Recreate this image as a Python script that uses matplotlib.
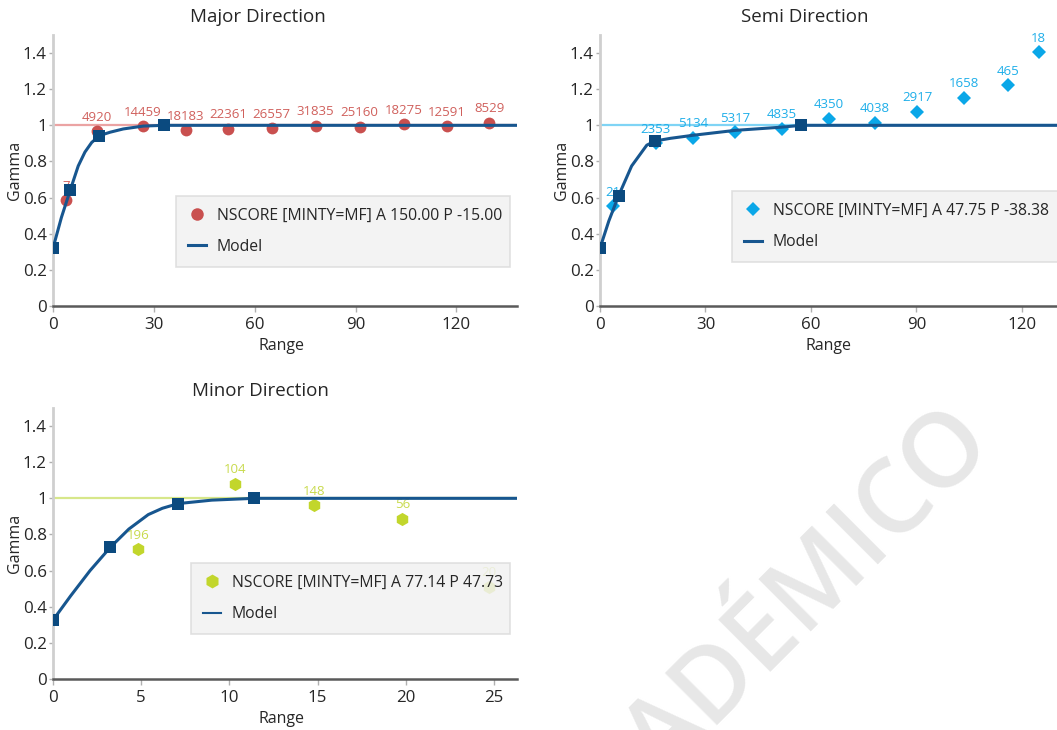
import matplotlib
matplotlib.use("Agg")
import matplotlib.pyplot as plt
from matplotlib.lines import Line2D
from matplotlib.ticker import FuncFormatter, MultipleLocator

plt.rcParams["font.family"] = ["Open Sans", "DejaVu Sans"]

# ---------------- experimental variogram points ----------------
major_lag = [3.9, 13.0, 26.7, 39.5, 52.1, 65.0, 78.1, 91.2, 104.3, 117.1, 129.8]
major_gamma = [0.585, 0.967, 0.994, 0.972, 0.980, 0.985, 0.998, 0.993, 1.006, 0.996, 1.013]
major_pairs = ["7", "4920", "14459", "18183", "22361", "26557", "31835", "25160",
               "18275", "12591", "8529"]

semi_lag = [3.8, 15.9, 26.5, 38.4, 51.7, 65.2, 78.2, 90.3, 103.5, 116.0, 124.8]
semi_gamma = [0.552, 0.902, 0.930, 0.961, 0.982, 1.037, 1.015, 1.074, 1.153, 1.221, 1.405]
semi_pairs = ["21", "2353", "5134", "5317", "4835", "4350", "4038", "2917", "1658",
              "465", "18"]

minor_lag = [4.84, 10.3, 14.8, 19.8, 24.7]
minor_gamma = [0.717, 1.081, 0.963, 0.888, 0.510]
minor_pairs = ["196", "104", "148", "56", "20"]

# ---------------- fitted model curves ----------------
major_model_x = [0.0, 2.5, 5.1, 7.5, 9.5, 11.5, 13.8, 17.0, 20.9, 26.9, 33.0, 140.0]
major_model_y = [0.32, 0.49, 0.64, 0.775, 0.852, 0.905, 0.943, 0.962, 0.980, 0.996, 1.0, 1.0]
major_knot_x = [0.0, 5.1, 13.8, 33.0]
major_knot_y = [0.32, 0.64, 0.943, 1.0]

semi_model_x = [0.0, 2.5, 5.3, 9.0, 13.3, 15.6, 20.0, 26.5, 38.4, 51.7, 57.3, 140.0]
semi_model_y = [0.32, 0.47, 0.611, 0.775, 0.89, 0.913, 0.928, 0.945, 0.972, 0.99, 1.0, 1.0]
semi_knot_x = [0.0, 5.3, 15.6, 57.3]
semi_knot_y = [0.32, 0.611, 0.913, 1.0]

minor_model_x = [0.0, 1.0, 2.1, 3.25, 4.3, 5.4, 6.2, 7.1, 9.0, 11.4, 30.0]
minor_model_y = [0.326, 0.46, 0.60, 0.729, 0.83, 0.91, 0.945, 0.971, 0.99, 1.0, 1.0]
minor_knot_x = [0.0, 3.25, 7.1, 11.4]
minor_knot_y = [0.326, 0.729, 0.971, 1.0]

major_legend = "NSCORE [MINTY=MF] A 150.00 P -15.00"
semi_legend = "NSCORE [MINTY=MF] A 47.75 P -38.38"
minor_legend = "NSCORE [MINTY=MF] A 77.14 P 47.73"

MODEL_COLOR = "#17568f"
KNOT_COLOR = "#0b4a7f"
TEXT_COLOR = "#262626"

W, H = 1057, 730
fig = plt.figure(figsize=(W / 100, H / 100), dpi=100)


def px_axes(left, top, right, bottom):
    return fig.add_axes([left / W, 1 - bottom / H, (right - left) / W, (bottom - top) / H])


def style_axes(ax, xmax, xstep):
    ax.set_xlim(0, xmax)
    ax.set_ylim(0, 1.5)
    ax.xaxis.set_major_locator(MultipleLocator(xstep))
    ax.yaxis.set_major_locator(MultipleLocator(0.2))
    ax.yaxis.set_major_formatter(FuncFormatter(lambda v, p: "%g" % round(v, 2)))
    ax.xaxis.set_major_formatter(FuncFormatter(lambda v, p: "%g" % v))
    for s in ("top", "right"):
        ax.spines[s].set_visible(False)
    ax.spines["left"].set_color("#cfcfcf")
    ax.spines["left"].set_linewidth(2)
    ax.spines["bottom"].set_color("#5a5a5a")
    ax.spines["bottom"].set_linewidth(1.8)
    ax.tick_params(axis="y", length=3, width=1, color="#b0b0b0", pad=1.5,
                   labelsize=12.2, labelcolor=TEXT_COLOR)
    ax.tick_params(axis="x", length=4, width=1, color="#b0b0b0", pad=4,
                   labelsize=12.2, labelcolor=TEXT_COLOR)
    ax.set_xlabel("Range", fontsize=11.5, color=TEXT_COLOR)
    ax.set_ylabel("Gamma", fontsize=11.5, color=TEXT_COLOR)
    ax.xaxis.set_label_coords(0.493, -40 / 271, transform=ax.transAxes)
    ax.yaxis.set_label_coords(-38 / 464, 0.5, transform=ax.transAxes)
    ax.xaxis.label.set_va("center")
    ax.yaxis.label.set_va("center")
    ax.patch.set_alpha(0)


def draw_panel(ax, lag, gamma, pairs, mx, my, kx, ky, marker, msize,
               pt_color, lbl_color, sill_color, legend_text, legend_box, model_lw_leg):
    ax.axhline(1.0, color=sill_color, lw=1.6, zorder=1)
    ax.plot(lag, gamma, linestyle="none", marker=marker, markersize=msize,
            color=pt_color, markeredgewidth=0, zorder=2, clip_on=False)
    for x, y, t in zip(lag, gamma, pairs):
        ax.annotate(t, (x, y), xytext=(0, 14), textcoords="offset pixels",
                    ha="center", va="center", fontsize=9.5, color=lbl_color, zorder=2,
                    annotation_clip=False)
    ax.plot(mx, my, color=MODEL_COLOR, lw=2.2, zorder=3)
    ax.plot(kx, ky, linestyle="none", marker="s", markersize=8.5,
            color=KNOT_COLOR, markeredgewidth=0, zorder=4)
    handles = [
        Line2D([], [], linestyle="none", marker=marker, markersize=msize + 0.5,
               color=pt_color, markeredgewidth=0),
        Line2D([], [], color=MODEL_COLOR, lw=model_lw_leg),
    ]
    leg = ax.legend(handles, [legend_text, "Model"], loc="upper left",
                    bbox_to_anchor=legend_box, mode="expand", borderaxespad=0,
                    fontsize=11.3, frameon=True, fancybox=False, framealpha=0.85,
                    facecolor="#f1f1f1", edgecolor="#dcdcdc", borderpad=0.75,
                    labelspacing=0.97, handlelength=1.15, handletextpad=0.7,
                    labelcolor=TEXT_COLOR)
    leg.get_frame().set_linewidth(1.2)
    leg.set_zorder(6)


# Major direction
ax1 = px_axes(53, 35, 517, 306)
style_axes(ax1, 138, 30)
draw_panel(ax1, major_lag, major_gamma, major_pairs, major_model_x, major_model_y,
           major_knot_x, major_knot_y, "o", 8.5, "#c9504f", "#d0605c", "#eba3a3",
           major_legend, (0.265, 0.140, 0.72, 0.266), 2.2)
fig.text(258 / W, 1 - 17 / H, "Major Direction", ha="center", va="center",
         fontsize=13.5, color=TEXT_COLOR)

# Semi direction (the axes run past the right edge of the figure)
ax2 = px_axes(600, 35, 1064, 306)
style_axes(ax2, 132, 30)
draw_panel(ax2, semi_lag, semi_gamma, semi_pairs, semi_model_x, semi_model_y,
           semi_knot_x, semi_knot_y, "D", 7, "#0aa7e8", "#1eaee9", "#7fd4f5",
           semi_legend, (0.284, 0.159, 0.75, 0.265), 2.2)
fig.text(805 / W, 1 - 17 / H, "Semi Direction", ha="center", va="center",
         fontsize=13.5, color=TEXT_COLOR)

# Minor direction
ax3 = px_axes(53, 408, 517, 679)
style_axes(ax3, 26.3, 5)
draw_panel(ax3, minor_lag, minor_gamma, minor_pairs, minor_model_x, minor_model_y,
           minor_knot_x, minor_knot_y, "h", 9.5, "#c2d62c", "#c8da4c", "#d7e78a",
           minor_legend, (0.297, 0.155, 0.688, 0.273), 1.5)
fig.text(260 / W, 1 - 391 / H, "Minor Direction", ha="center", va="center",
         fontsize=13.5, color=TEXT_COLOR)

# Watermark
fig.text(996 / W, 1 - 447 / H, "ACADÉMICO", rotation=45, rotation_mode="anchor",
         ha="right", va="baseline", fontsize=74, fontweight="semibold",
         color="#e7e7e7", zorder=0)

fig.savefig("out.png", dpi=100)
